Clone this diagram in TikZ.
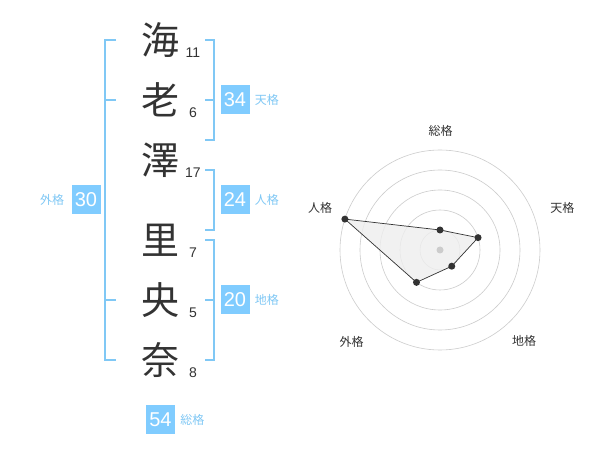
\documentclass[tikz,border=0pt]{standalone}
\usepackage{fontspec}
\setmainfont{Liberation Sans}
\newfontfamily\cjk{Noto Sans CJK JP}
\usetikzlibrary{positioning}
\definecolor{boxblue}{HTML}{80CCFF}
\definecolor{lblue}{HTML}{80C8F5}
\definecolor{txt}{HTML}{333333}
\definecolor{grid}{HTML}{CCCCCC}
\definecolor{polyfill}{HTML}{EEEEEE}
\begin{document}
\begin{tikzpicture}[x=1pt,y=-1pt,
  kanji/.style={font=\cjk\fontsize{38}{38}\selectfont, text=txt, inner sep=0pt},
  strokes/.style={font=\fontsize{14}{14}\selectfont, text=txt, inner sep=0pt},
  numbox/.style={fill=boxblue, text=white, minimum width=29pt, minimum height=29pt, inner sep=0pt, font=\fontsize{20}{20}\selectfont},
  gname/.style={text=lblue, font=\cjk\fontsize{12}{12}\selectfont, inner sep=0pt},
  brk/.style={draw=lblue, line width=1.6pt},
  axlabel/.style={text=txt, font=\cjk\fontsize{12}{12}\selectfont, inner sep=0pt},
  gridline/.style={draw=grid, line width=0.6pt},
  vdot/.style={circle, fill=txt, minimum size=7pt, inner sep=0pt},
  cdot/.style={circle, fill=grid, minimum size=7pt, inner sep=0pt}]
\useasboundingbox (0,0) rectangle (600,470);
\fill[white] (0,0) rectangle (600,470);
% kanji
\node[kanji] (k1) at (160,40) {海};
\node[kanji] (k2) at (160,100) {老};
\node[kanji] (k3) at (160,160) {澤};
\node[kanji] (k4) at (160,240) {里};
\node[kanji] (k5) at (160,300) {央};
\node[kanji] (k6) at (160,360) {奈};
% stroke counts
\node[strokes] (n1) at (193,53) {11};
\node[strokes] (n2) at (193,113) {6};
\node[strokes] (n3) at (193,173) {17};
\node[strokes] (n4) at (193,253) {7};
\node[strokes] (n5) at (193,313) {5};
\node[strokes] (n6) at (193,373) {8};
% brackets
\draw[brk] (116,40) -- (105,40) -- (105,360) -- (116,360);
\draw[brk] (105,100) -- (116,100);
\draw[brk] (105,300) -- (116,300);
\draw[brk] (205,40) -- (214,40) -- (214,140) -- (205,140);
\draw[brk] (205,100) -- (214,100);
\draw[brk] (205,170) -- (214,170) -- (214,230) -- (205,230);
\draw[brk] (205,240) -- (214,240) -- (214,360) -- (205,360);
\draw[brk] (205,300) -- (214,300);
% boxes
\node[numbox] (ten) at (235,100) {34};
\node[gname, right=5pt of ten] (tenl) {天格};
\node[numbox] (jin) at (235,200) {24};
\node[gname, right=5pt of jin] (jinl) {人格};
\node[numbox] (chi) at (235,300) {20};
\node[gname, right=5pt of chi] (chil) {地格};
\node[numbox] (gai) at (86,200) {30};
\node[gname, left=7pt of gai] (gail) {外格};
\node[numbox] (sou) at (160.5,419.5) {54};
\node[gname, right=5pt of sou] (soul) {総格};
% radar
\begin{scope}[shift={(440,250)}, yscale=-1]
  \foreach \r in {20,40,60,80,100} \draw[gridline] (0,0) circle (\r);
  \coordinate (p1) at (90:20);
  \coordinate (p2) at (18:40);
  \coordinate (p3) at (-54:20);
  \coordinate (p4) at (-126:40);
  \coordinate (p5) at (162:100);
  \filldraw[fill=polyfill, fill opacity=0.8, draw=txt, line width=0.7pt] (p1) -- (p2) -- (p3) -- (p4) -- (p5) -- cycle;
  \node[cdot] (c) at (0,0) {};
  \foreach \i in {1,...,5} \node[vdot] (d\i) at (p\i) {};
  \node[axlabel] (a1) at (0.7,119.5) {総格};
  \node[axlabel] (a2) at (122.3,41.7) {天格};
  \node[axlabel] (a5) at (-120,41.7) {人格};
  \node[axlabel] (a4) at (-88.3,-91.7) {外格};
  \node[axlabel] (a3) at (84,-91) {地格};
\end{scope}
\end{tikzpicture}
\end{document}
